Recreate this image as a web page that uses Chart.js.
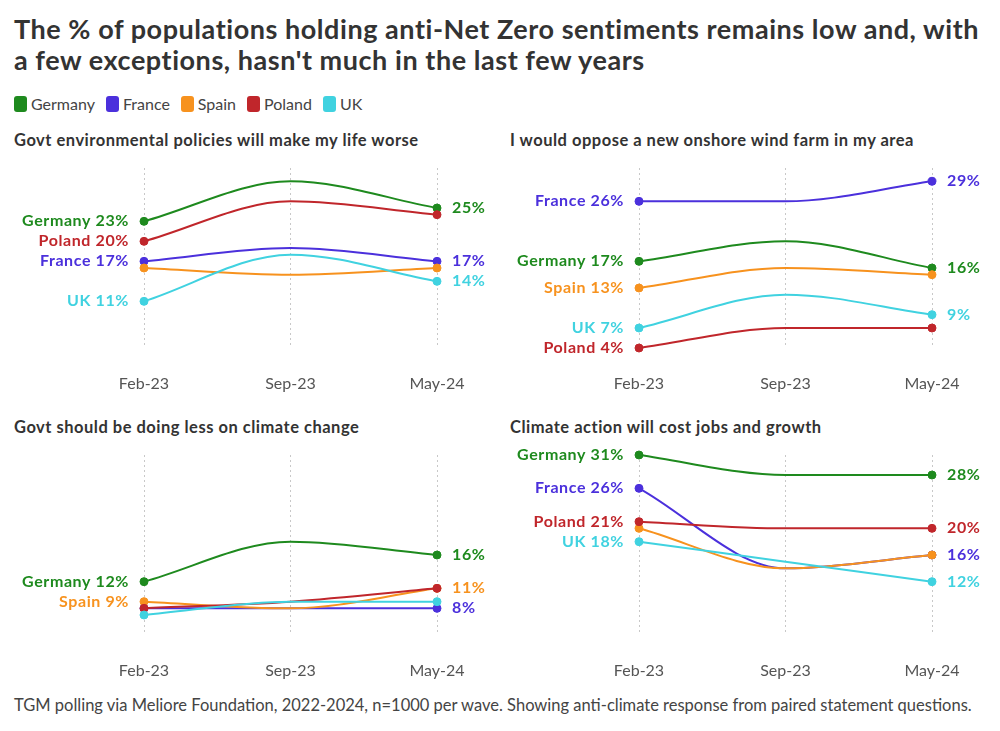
<!DOCTYPE html>
<html>
<head>
<meta charset="utf-8">
<script src="https://cdn.jsdelivr.net/npm/chart.js@4"></script>
<style>
  body { margin:0; background:#fff; width:1000px; height:731px; position:relative; overflow:hidden;
         font-family: Lato, "Noto Sans", sans-serif; color:#333; }
  #title { position:absolute; left:14px; top:13px; font-size:27px; letter-spacing:0.55px; font-weight:bold; line-height:31px; color:#333; }
  #legend { position:absolute; left:14px; top:94px; display:flex; font-size:16px; color:#444; }
  #legend span.item { display:flex; align-items:center; margin-right:11px; }
  #legend span.sw { width:13px; height:16px; border-radius:3px; margin-right:4px; display:inline-block; }
  .ptitle { position:absolute; font-size:16.5px; letter-spacing:0.5px; font-weight:bold; color:#333; }
  .panel { position:absolute; width:500px; height:250px; }
  #foot { position:absolute; left:14px; top:695px; font-size:16.5px; color:#444; }
</style>
</head>
<body>
<div id="title">The % of populations holding anti-Net Zero sentiments remains low and, with<br>a few exceptions, hasn't much in the last few years</div>
<div id="legend"></div>

<div class="ptitle" style="left:14px;top:130px">Govt environmental policies will make my life worse</div>
<div class="ptitle" style="left:510px;top:130px">I would oppose a new onshore wind farm in my area</div>
<div class="ptitle" style="left:14px;top:417px">Govt should be doing less on climate change</div>
<div class="ptitle" style="left:510px;top:417px">Climate action will cost jobs and growth</div>

<div class="panel" style="left:0;top:150px"><canvas id="c1"></canvas></div>
<div class="panel" style="left:495px;top:150px"><canvas id="c2"></canvas></div>
<div class="panel" style="left:0;top:437px"><canvas id="c3"></canvas></div>
<div class="panel" style="left:495px;top:437px"><canvas id="c4"></canvas></div>

<div id="foot">TGM polling via Meliore Foundation, 2022-2024, n=1000 per wave. Showing anti-climate response from paired statement questions.</div>

<script>
// waves and countries
var waves = ['Feb-23', 'Sep-23', 'May-24'];
var countries = ['Germany', 'France', 'Spain', 'Poland', 'UK'];
var colors = ['#1e8a1e', '#4b30dc', '#f7921e', '#c0262b', '#40d2e0'];

// % agreeing, per country, one array per statement
// order: Germany, France, Spain, Poland, UK
var lifeWorse = [[23,29,25],[17,19,17],[16,15,16],[20,26,24],[11,18,14]];
var windFarm  = [[17,20,16],[26,26,29],[13,16,15],[4,7,7],[7,12,9]];
var doLess    = [[12,18,16],[8,8,8],[9,8,11],[8,9,11],[7,9,9]];
var costJobs  = [[31,28,28],[26,14,16],[20,14,16],[21,20,20],[18,15,12]];

var yMin = 4, yMax = 31;

// legend
var lg = document.getElementById('legend');
countries.forEach(function(c, i){
  var s = document.createElement('span');
  s.className = 'item';
  s.innerHTML = '<span class="sw" style="background:' + colors[i] + '"></span>' + c;
  lg.appendChild(s);
});

// start/end labels, hide the ones that would overlap
var endLabels = {
  id: 'endLabels',
  afterDatasetsDraw: function(chart){
    var ctx = chart.ctx;
    ctx.save();
    ctx.font = 'bold 16px Lato, "Noto Sans", sans-serif';
    ctx.letterSpacing = '0.6px';
    ctx.textBaseline = 'middle';
    [0, 2].forEach(function(idx){
      var items = chart.data.datasets.map(function(ds, i){
        var pt = chart.getDatasetMeta(i).data[idx];
        return {i: i, v: ds.data[idx], x: pt.x, y: pt.y, ds: ds};
      });
      items.sort(function(a, b){ return b.v - a.v || a.i - b.i; });
      var kept = [];
      items.forEach(function(it){
        var clash = kept.some(function(k){ return Math.abs(k.y - it.y) < 16; });
        if (clash) return;
        kept.push(it);
        ctx.fillStyle = it.ds.borderColor;
        if (idx === 0) {
          ctx.textAlign = 'right';
          ctx.fillText(it.ds.label + ' ' + it.v + '%', it.x - 15, it.y);
        } else {
          ctx.textAlign = 'left';
          ctx.fillText(it.v + '%', it.x + 15, it.y);
        }
      });
    });
    ctx.restore();
  }
};

function makePanel(id, values){
  var datasets = values.map(function(vals, i){
    return {
      label: countries[i],
      data: vals,
      borderColor: colors[i],
      backgroundColor: colors[i],
      borderWidth: 2,
      pointRadius: [4, 0, 4],
      pointBorderWidth: 1,
      cubicInterpolationMode: 'monotone',
      clip: false,
      order: -i
    };
  });
  new Chart(document.getElementById(id), {
    type: 'line',
    data: { labels: waves, datasets: datasets },
    options: {
      responsive: false,
      animation: false,
      events: [],
      layout: { padding: { top: 18, left: 144, right: 63, bottom: 0 } },
      plugins: { legend: { display: false }, tooltip: { enabled: false } },
      scales: {
        x: {
          offset: false,
          border: { display: false, dash: [2, 3] },
          grid: { color: '#c8c8c8', drawTicks: false, lineWidth: 1 },
          ticks: { color: '#555', padding: 26, font: { size: 16, family: 'Lato, "Noto Sans", sans-serif' } },
          afterFit: function(s){ s.height = 52; }
        },
        y: { display: false, min: yMin, max: yMax }
      }
    },
    plugins: [endLabels]
  });
}

['c1','c2','c3','c4'].forEach(function(id){
  var c = document.getElementById(id);
  c.width = 500; c.height = 250;
});
makePanel('c1', lifeWorse);
makePanel('c2', windFarm);
makePanel('c3', doLess);
makePanel('c4', costJobs);
</script>
</body>
</html>
